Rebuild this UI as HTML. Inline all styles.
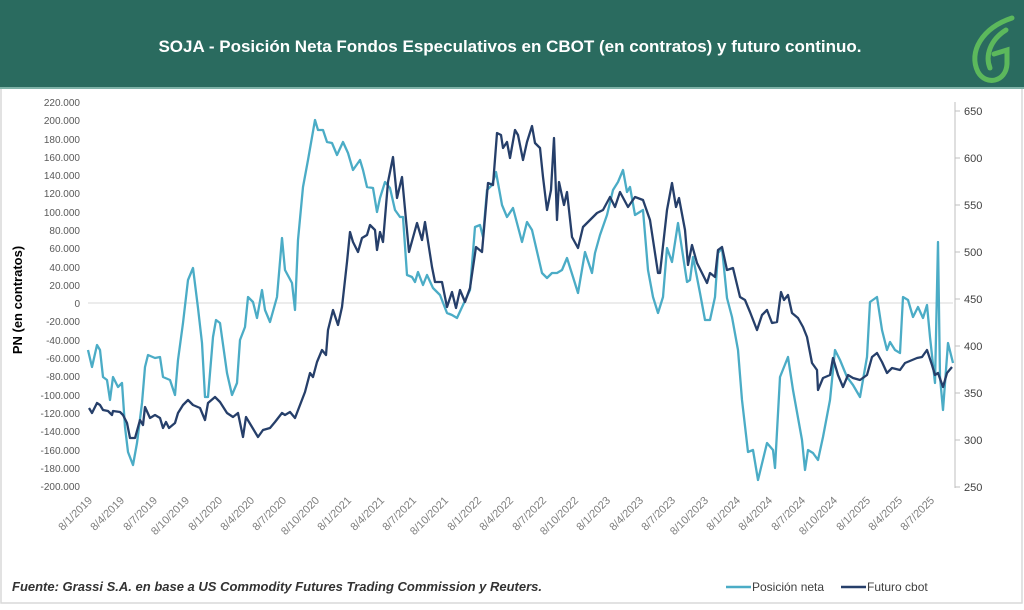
<!DOCTYPE html>
<html><head><meta charset="utf-8"><style>
body{margin:0;background:#fff;width:1024px;height:605px;overflow:hidden;font-family:"Liberation Sans",sans-serif}
</style></head><body>
<svg width="1024" height="605" xmlns="http://www.w3.org/2000/svg" font-family="Liberation Sans, sans-serif">
<rect x="0" y="0" width="1024" height="605" fill="#fff"/>
<rect x="1" y="88" width="1021" height="515" fill="#fff" stroke="#d9d9d9" stroke-width="1.5"/>
<rect x="0" y="0" width="1024" height="88" fill="#2a6b5f"/>
<rect x="0" y="87" width="1024" height="2" fill="#7fb3a8"/>
<text x="510" y="52" fill="#fff" font-size="17" font-weight="bold" text-anchor="middle">SOJA - Posición Neta Fondos Especulativos en CBOT (en contratos) y futuro continuo.</text>
<g fill="none" stroke="#5cb85c" stroke-width="5" stroke-linecap="round">
<path d="M1012 18 C982 28 968 52 978 72 C986 86 1006 82 1007 64 L1007 50 L994 54"/>
<path d="M1006 30 C990 40 985 56 990 68"/>
</g>
<line x1="88" y1="303" x2="953" y2="303" stroke="#d9d9d9" stroke-width="1"/>
<line x1="955" y1="102" x2="955" y2="488" stroke="#bfbfbf" stroke-width="1"/>
<g stroke="#bfbfbf"><line x1="955" y1="111" x2="960" y2="111"/><line x1="955" y1="158" x2="960" y2="158"/><line x1="955" y1="205" x2="960" y2="205"/><line x1="955" y1="252" x2="960" y2="252"/><line x1="955" y1="299" x2="960" y2="299"/><line x1="955" y1="346" x2="960" y2="346"/><line x1="955" y1="393" x2="960" y2="393"/><line x1="955" y1="440" x2="960" y2="440"/><line x1="955" y1="487" x2="960" y2="487"/></g>
<g font-size="11" fill="#404040"><text x="964" y="115">650</text><text x="964" y="162">600</text><text x="964" y="209">550</text><text x="964" y="256">500</text><text x="964" y="303">450</text><text x="964" y="350">400</text><text x="964" y="397">350</text><text x="964" y="444">300</text><text x="964" y="491">250</text></g>
<g font-size="10" fill="#595959" text-anchor="end">
<text x="80" y="106">220.000</text><text x="80" y="124">200.000</text><text x="80" y="143">180.000</text><text x="80" y="161">160.000</text><text x="80" y="179">140.000</text><text x="80" y="197">120.000</text><text x="80" y="216">100.000</text><text x="80" y="234">80.000</text><text x="80" y="252">60.000</text><text x="80" y="271">40.000</text><text x="80" y="289">20.000</text><text x="80" y="307">0</text><text x="80" y="325">-20.000</text><text x="80" y="344">-40.000</text><text x="80" y="362">-60.000</text><text x="80" y="380">-80.000</text><text x="80" y="399">-100.000</text><text x="80" y="417">-120.000</text><text x="80" y="435">-140.000</text><text x="80" y="454">-160.000</text><text x="80" y="472">-180.000</text><text x="80" y="490">-200.000</text>
</g>
<text transform="translate(22,300) rotate(-90)" font-size="13" font-weight="bold" fill="#000" text-anchor="middle">PN  (en contratos)</text>
<g font-size="11" fill="#7f7f7f" text-anchor="end">
<text transform="translate(93,501) rotate(-45)">8/1/2019</text>
<text transform="translate(125,501) rotate(-45)">8/4/2019</text>
<text transform="translate(158,501) rotate(-45)">8/7/2019</text>
<text transform="translate(190,501) rotate(-45)">8/10/2019</text>
<text transform="translate(223,501) rotate(-45)">8/1/2020</text>
<text transform="translate(255,501) rotate(-45)">8/4/2020</text>
<text transform="translate(287,501) rotate(-45)">8/7/2020</text>
<text transform="translate(320,501) rotate(-45)">8/10/2020</text>
<text transform="translate(352,501) rotate(-45)">8/1/2021</text>
<text transform="translate(385,501) rotate(-45)">8/4/2021</text>
<text transform="translate(417,501) rotate(-45)">8/7/2021</text>
<text transform="translate(449,501) rotate(-45)">8/10/2021</text>
<text transform="translate(482,501) rotate(-45)">8/1/2022</text>
<text transform="translate(514,501) rotate(-45)">8/4/2022</text>
<text transform="translate(547,501) rotate(-45)">8/7/2022</text>
<text transform="translate(579,501) rotate(-45)">8/10/2022</text>
<text transform="translate(611,501) rotate(-45)">8/1/2023</text>
<text transform="translate(644,501) rotate(-45)">8/4/2023</text>
<text transform="translate(676,501) rotate(-45)">8/7/2023</text>
<text transform="translate(709,501) rotate(-45)">8/10/2023</text>
<text transform="translate(741,501) rotate(-45)">8/1/2024</text>
<text transform="translate(773,501) rotate(-45)">8/4/2024</text>
<text transform="translate(806,501) rotate(-45)">8/7/2024</text>
<text transform="translate(838,501) rotate(-45)">8/10/2024</text>
<text transform="translate(871,501) rotate(-45)">8/1/2025</text>
<text transform="translate(903,501) rotate(-45)">8/4/2025</text>
<text transform="translate(935,501) rotate(-45)">8/7/2025</text>
</g>
<polyline fill="none" stroke="#4bacc6" stroke-width="2.3" stroke-linejoin="round" points="88,350 92,367 97,345 100,350 103,377 107,380 110,400 113,377 118,387 122,383 125,427 128,452 133,465 137,443 142,403 145,367 148,355 155,358 160,357 163,377 170,380 175,395 178,360 183,323 188,280 193,268 198,308 202,343 205,397 208,397 213,337 216,320 220,323 227,373 232,395 237,383 240,340 245,327 248,297 253,302 257,318 262,290 265,310 270,322 277,297 282,238 285,270 292,283 295,310 298,240 303,187 308,160 315,120 318,130 323,130 327,142 332,143 337,155 343,142 348,153 353,170 360,160 363,170 367,187 373,188 377,212 380,198 385,182 390,188 395,210 400,217 403,217 407,275 412,277 415,282 418,272 423,285 427,275 433,288 440,295 447,313 452,315 457,318 463,305 470,290 475,227 480,225 483,237 487,190 492,185 496,172 502,205 507,217 513,208 522,242 527,222 532,230 542,273 547,278 552,273 557,273 562,270 567,258 573,277 578,293 585,252 592,273 595,253 600,235 607,215 613,190 618,182 623,170 627,192 630,187 635,215 643,210 648,270 653,297 658,313 663,297 667,248 672,262 678,223 687,282 690,280 693,257 700,293 705,320 710,320 715,297 718,253 722,248 727,298 732,317 738,350 742,400 748,452 753,450 758,480 767,443 773,450 775,468 780,377 788,357 793,390 802,440 805,470 808,450 813,453 818,460 823,437 830,400 835,350 840,360 847,377 853,385 860,397 867,357 870,302 877,297 882,330 887,350 890,342 895,350 900,353 903,297 908,300 913,317 918,307 923,318 927,305 930,337 935,383 938,242 940,377 943,410 948,343 953,363"/>
<polyline fill="none" stroke="#263f6a" stroke-width="2.3" stroke-linejoin="round" points="89,408 92,413 97,403 100,405 103,410 108,411 112,415 113,411 120,412 123,415 127,423 130,438 135,438 140,420 143,425 145,407 150,418 155,415 160,418 163,428 166,422 169,428 175,423 178,413 183,405 188,400 193,405 200,408 205,420 208,403 215,397 220,402 227,413 233,417 238,413 243,437 246,417 252,427 258,437 263,430 270,428 275,422 282,413 285,415 290,412 295,418 300,405 305,392 310,373 313,377 317,362 322,350 326,355 328,330 333,310 338,325 342,307 347,262 350,232 353,242 358,252 362,238 367,235 370,225 375,230 377,250 380,232 383,242 388,182 393,157 397,198 402,177 409,252 417,223 422,240 425,222 432,267 435,282 442,282 447,307 452,292 456,308 460,290 465,302 470,288 476,247 482,252 488,183 493,185 497,133 501,135 503,148 507,142 510,158 515,130 518,135 523,160 527,142 532,126 535,143 540,148 543,177 547,210 551,190 554,138 557,220 559,182 564,205 567,192 572,237 578,248 583,227 590,220 597,213 603,210 610,197 615,207 620,192 628,207 635,197 643,200 650,220 658,273 660,273 667,210 672,183 676,207 679,198 685,230 688,265 692,245 697,263 702,273 707,283 710,273 715,277 718,250 722,247 727,270 733,268 740,297 745,300 750,312 757,330 762,315 767,310 772,323 777,322 781,292 784,300 788,295 792,313 798,318 803,327 807,337 812,363 817,370 818,390 823,378 830,375 833,358 838,375 843,387 848,375 853,378 860,380 867,375 872,357 877,353 882,362 887,373 892,368 900,370 905,363 917,358 922,357 927,350 932,365 935,375 938,373 943,387 947,373 952,367"/>
<text x="12" y="591" font-size="13" font-style="italic" font-weight="bold" fill="#333">Fuente: Grassi S.A. en base a US Commodity  Futures Trading Commission y Reuters.</text>
<line x1="726" y1="587" x2="751" y2="587" stroke="#4bacc6" stroke-width="2.5"/>
<text x="752" y="591" font-size="12" fill="#404040">Posición neta</text>
<line x1="841" y1="587" x2="866" y2="587" stroke="#263f6a" stroke-width="2.5"/>
<text x="867" y="591" font-size="12" fill="#404040">Futuro cbot</text>
</svg>
</body></html>
